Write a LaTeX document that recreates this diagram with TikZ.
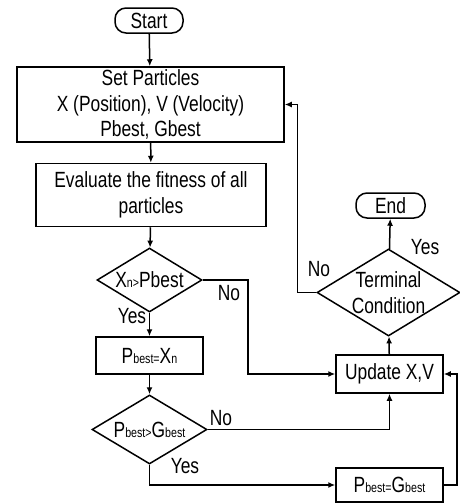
\documentclass[tikz,border=0pt]{standalone}
\usepackage{fontspec}
\setmainfont[FakeStretch=0.79]{Liberation Sans}
\usetikzlibrary{shapes.geometric,arrows.meta}
\newcommand{\sm}[1]{{\fontsize{13.5}{13.5}\selectfont #1}}

\begin{document}
\begin{tikzpicture}[x=1pt,y=-1pt,
    every node/.style={font=\fontsize{22}{25.5}\selectfont},
    termbox/.style={draw,line width=1.5pt,rounded corners=11pt,inner sep=0pt,minimum height=25pt},
    procbox/.style={draw,line width=1.5pt,inner sep=0pt,align=center},
    decbox/.style={draw,diamond,line width=1.5pt,inner sep=0pt,align=center},
    flow/.style={line width=1.5pt,-{Latex[length=7pt,width=6pt]}}]
    \useasboundingbox (0,0) rectangle (460,504);

    % Main column
    \node[termbox,minimum width=68pt] (start) at (149,20.5) {Start};
    \node[procbox,minimum width=267pt,minimum height=75pt] (init) at (150.5,104.5)
        {Set Particles\\X (Position), V (Velocity)\\Pbest, Gbest};
    \node[procbox,minimum width=230pt,minimum height=63pt] (eval) at (151,195)
        {Evaluate the fitness of all\\particles};
    \node[decbox,minimum width=105pt,minimum height=64pt,aspect=1.64] (dec1) at (149.5,280)
        {X\sm{n>}Pbest};
    \node[procbox,minimum width=107pt,minimum height=37pt] (setp) at (149.5,355.5)
        {P\sm{best=}X\sm{n}};
    \node[decbox,minimum width=115pt,minimum height=69pt,aspect=1.67] (dec2) at (149.5,429.5)
        {P\sm{best>}G\sm{best}};

    % Right column
    \node[termbox,minimum width=69pt] (end) at (390.5,205.5) {End};
    \node[decbox,minimum width=143pt,minimum height=87pt,aspect=1.64,inner sep=-6pt] (term) at (388.5,292.5)
        {Terminal\\Condition};
    \node[procbox,minimum width=107pt,minimum height=38pt] (update) at (389.5,374) {Update X,V};
    \node[procbox,minimum width=107pt,minimum height=34pt] (setg) at (389.5,485)
        {P\sm{best=}G\sm{best}};

    % Connectors
    \draw[flow] (start) -- (init);
    \draw[flow] (init) -- (eval);
    \draw[flow] (eval) -- (dec1);
    \draw[flow] (dec1) -- (setp);
    \draw[flow] (setp) -- (dec2);
    \draw[flow] (dec1.east) -- ++(45,0) |- (update.west);
    \draw[flow] (dec2.east) -| (update.south);
    \draw[flow] (dec2.south) |- (setg.west);
    \draw[flow] (setg.east) -- ++(13,0) |- (update.east);
    \draw[flow] (update) -- (term);
    \draw[flow] (term) -- (end);
    \draw[flow] (term.west) -- ++(-19,0) |- (init.east);

    % Labels
    \node (yes1) at (132,316) {Yes};
    \node (no1) at (229,293) {No};
    \node (no2) at (221,418) {No};
    \node (yes2) at (185,466) {Yes};
    \node (no3) at (319,269) {No};
    \node (yes3) at (425,247) {Yes};
\end{tikzpicture}
\end{document}
